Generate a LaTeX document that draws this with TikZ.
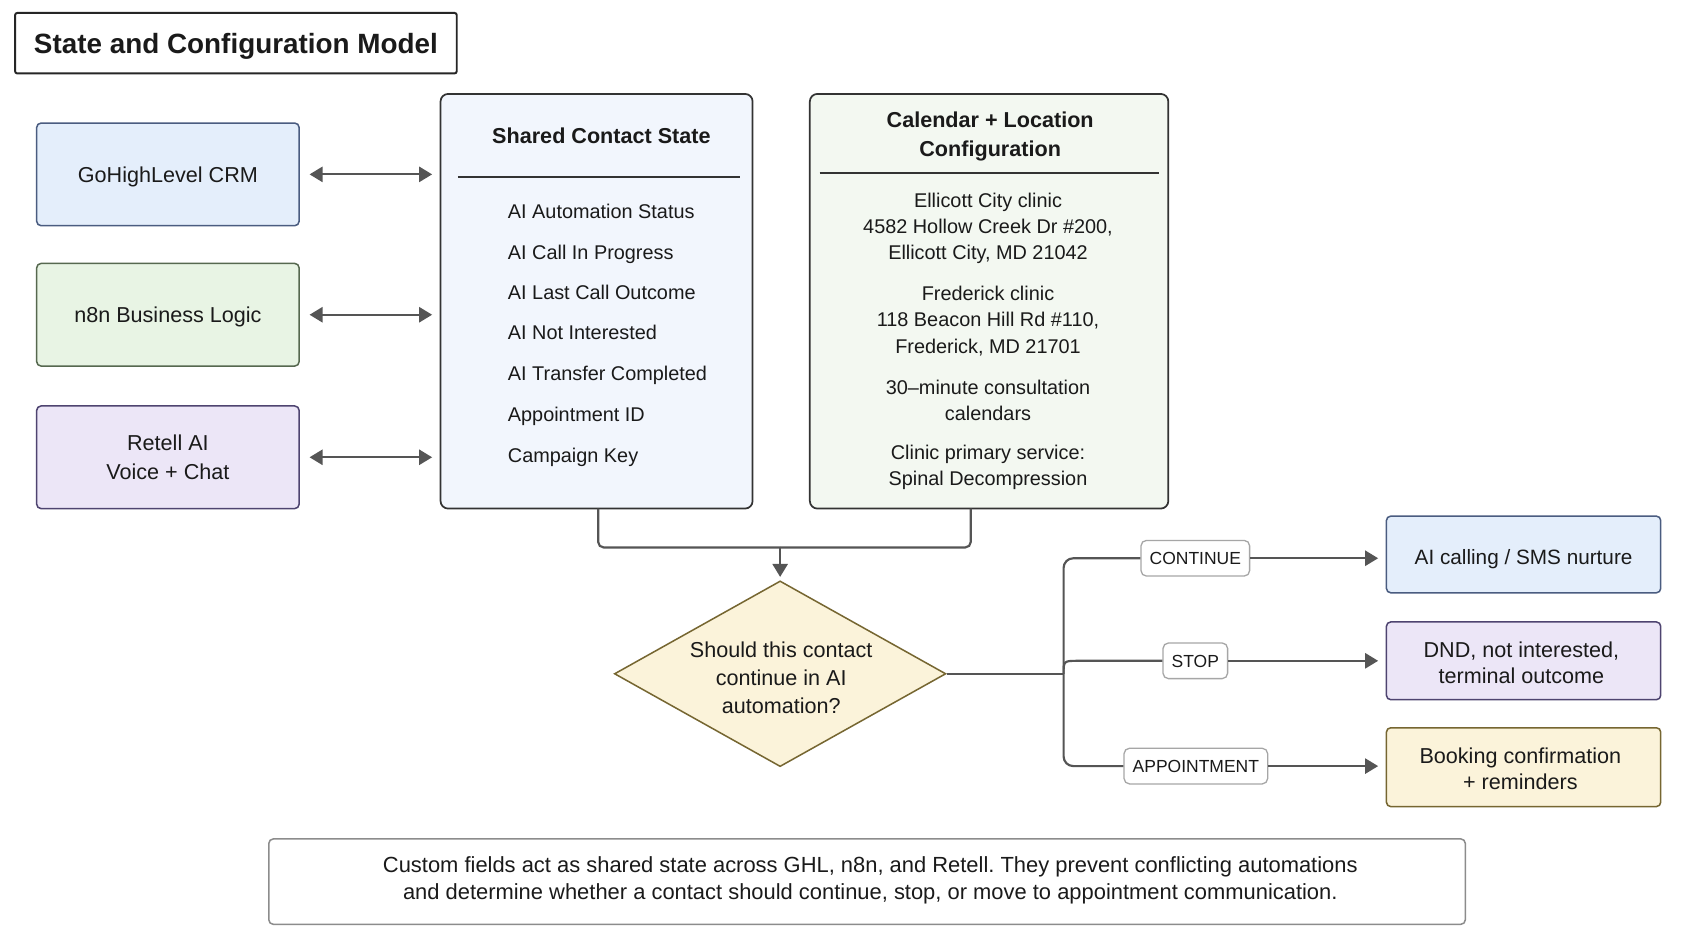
\documentclass[tikz,border=0pt]{standalone}
\usepackage{fontspec}
\setmainfont{Liberation Sans}
\frenchspacing
\usetikzlibrary{arrows.meta,shapes.geometric}
\definecolor{bluef}{HTML}{E4EEFB}
\definecolor{blueb}{HTML}{4A5C80}
\definecolor{greenf}{HTML}{E8F4E4}
\definecolor{greenb}{HTML}{56684F}
\definecolor{lavf}{HTML}{ECE6F7}
\definecolor{lavb}{HTML}{4E4470}
\definecolor{yelf}{HTML}{FBF3DA}
\definecolor{yelb}{HTML}{766631}
\definecolor{sharedf}{HTML}{F2F6FD}
\definecolor{calf}{HTML}{F3F8F1}
\definecolor{connc}{HTML}{555555}
\definecolor{textc}{HTML}{1A1A1A}
\definecolor{frame}{HTML}{333333}
\begin{document}
\begin{tikzpicture}[x=0.5pt,y=-0.5pt,
  every node/.style={text=textc},
  body/.style={font=\fontsize{10}{12.25}\selectfont},
  small/.style={font=\fontsize{9.2}{12.25}\selectfont},
  one/.style={text height=7.2pt, text depth=0pt},
  sbox/.style={body, draw, line width=0.7pt, rounded corners=2pt, align=center, inner sep=0pt},
  bigbox/.style={draw=frame, line width=0.8pt, rounded corners=3.5pt, inner sep=0pt},
  item/.style={small, anchor=west, inner sep=0pt, text height=6.6pt, text depth=0pt},
  cline/.style={small, align=center, inner sep=0pt},
  txt/.style={align=center, inner sep=0pt},
  hdr/.style={font=\bfseries\fontsize{10}{13.5}\selectfont, align=center, inner sep=0pt},
  lab/.style={draw=black!35, fill=white, line width=0.6pt, rounded corners=2.5pt, font=\fontsize{8.1}{9}\selectfont, inner xsep=4pt, inner ysep=0pt, minimum height=16.5pt, text height=5.8pt, text depth=0pt},
  conn/.style={draw=connc, line width=1pt},
  arr/.style={conn, -{Triangle[length=6pt,width=7pt]}},
  darr/.style={conn, {Triangle[length=6pt,width=7pt]}-{Triangle[length=6pt,width=7pt]}},
  sep/.style={draw=frame, line width=0.7pt}
]
\useasboundingbox[fill=white] (0,0) rectangle (1567,860);

% title
\node[draw=black!85, line width=0.9pt, rounded corners=1pt, minimum width=204.5pt, minimum height=28pt, font=\bfseries\fontsize{12.9}{15}\selectfont, text height=9.2pt, text depth=0pt] (title) at (218.5,40) {State and Configuration Model};

% left boxes
\node[sbox, one, fill=bluef, draw=blueb, minimum width=121.5pt, minimum height=47.5pt] (ghl) at (155.5,161.5) {GoHighLevel CRM};
\node[sbox, one, fill=greenf, draw=greenb, minimum width=121.5pt, minimum height=47.5pt] (n8n) at (155.5,291.5) {n8n Business Logic};
\node[sbox, fill=lavf, draw=lavb, minimum width=121.5pt, minimum height=47.5pt, font=\fontsize{10}{13}\selectfont] (retell) at (155.5,423.5) {Retell AI\\Voice + Chat};

% shared contact state
\node[bigbox, fill=sharedf, minimum width=144.5pt, minimum height=192pt] (shared) at (552.5,279) {};
\node[hdr, text height=7.2pt, text depth=0pt] (sharedt) at (557,126) {Shared Contact State};
\coordinate (s1) at (424,164);
\coordinate (s2) at (685,164);
\draw[sep] (s1) -- (s2);
\node[item] (i1) at (470,196) {AI Automation Status};
\node[item] (i2) at (470,234) {AI Call In Progress};
\node[item] (i3) at (470,271) {AI Last Call Outcome};
\node[item] (i4) at (470,308) {AI Not Interested};
\node[item] (i5) at (470,346) {AI Transfer Completed};
\node[item] (i6) at (470,384) {Appointment ID};
\node[item] (i7) at (470,422) {Campaign Key};

% calendar
\node[bigbox, fill=calf, minimum width=166pt, minimum height=192pt] (cal) at (916,279) {};
\node[hdr] (calt) at (917,126.5) {Calendar + Location\\Configuration};
\coordinate (c1) at (759,160);
\coordinate (c2) at (1073,160);
\draw[sep] (c1) -- (c2);
\node[cline] (g1) at (915,211.5) {Ellicott City clinic\\4582 Hollow Creek Dr \#200,\\Ellicott City, MD 21042};
\node[cline] (g2) at (915,297) {Frederick clinic\\118 Beacon Hill Rd \#110,\\Frederick, MD 21701};
\node[cline] (g3) at (915,371) {30–minute consultation\\calendars};
\node[cline] (g4) at (915,433) {Clinic primary service:\\Spinal Decompression};

% double arrows
\draw[darr, shorten <=4.5pt, shorten >=3.5pt] (ghl.east) -- (ghl.east -| shared.west);
\draw[darr, shorten <=4.5pt, shorten >=3.5pt] (n8n.east) -- (n8n.east -| shared.west);
\draw[darr, shorten <=4.5pt, shorten >=3.5pt] (retell.east) -- (retell.east -| shared.west);

% decision
\node[diamond, draw=yelb, fill=yelf, line width=0.7pt, aspect=1.8, inner sep=0pt, minimum width=153.5pt, minimum height=86pt] (dia) at (722.5,624) {};
\node[txt, font=\fontsize{10}{13}\selectfont] (diat) at (723.5,628) {Should this contact\\continue in AI\\automation?};

\coordinate (sout) at (554,471);
\coordinate (cout) at (899,471);
\coordinate (j) at (722.5,507);
\draw[conn, rounded corners=2.5pt] (sout) |- (j);
\draw[conn, rounded corners=2.5pt] (cout) |- (j);
\draw[arr, shorten >=1.5pt] (j) -- (dia.north);

% outcomes
\node[sbox, fill=bluef, draw=blueb, minimum width=127pt, minimum height=35.5pt, font=\fontsize{9.6}{12}\selectfont, text height=9.6pt, text depth=0pt] (o1) at (1411,513.5) {AI calling / SMS nurture};
\node[sbox, fill=lavf, draw=lavb, minimum width=127pt, minimum height=36pt] (o2) at (1411,612) {};
\node[txt, font=\fontsize{10}{12}\selectfont] (o2t) at (1409,614) {DND, not interested,\\terminal outcome};
\node[sbox, fill=yelf, draw=yelb, minimum width=127pt, minimum height=36.5pt] (o3) at (1411,710.5) {};
\node[txt, font=\fontsize{10}{12}\selectfont] (o3t) at (1408,712) {Booking confirmation\\+ reminders};

\node[lab] (l1) at (1107,517) {CONTINUE};
\node[lab] (l2) at (1107,612) {STOP};
\node[lab] (l3) at (1107.5,709.5) {APPOINTMENT};

\coordinate (br) at (985,624);
\draw[conn] (dia.east) -- (br);
\draw[conn, rounded corners=4.5pt] (br) |- (l1.west);
\draw[conn, rounded corners=4.5pt] (br) |- (l3.west);
\draw[conn] (br) .. controls (985,612) .. (999,612) -- (l2.west);
\draw[arr, shorten >=3.5pt] (l1.east) -- (l1.east -| o1.west);
\draw[arr, shorten >=3.5pt] (l2.east) -- (l2.east -| o2.west);
\draw[arr, shorten >=3.5pt] (l3.east) -- (l3.east -| o3.west);

% note
\node[draw=black!45, line width=0.7pt, rounded corners=2pt, minimum width=554pt, minimum height=39.5pt] (note) at (803,816.5) {};
\node[txt, font=\fontsize{10.15}{12.5}\selectfont] (notet) at (806,815.5) {Custom fields act as shared state across GHL, n8n, and Retell. They prevent conflicting automations\\and determine whether a contact should continue, stop, or move to appointment communication.};
\end{tikzpicture}
\end{document}
